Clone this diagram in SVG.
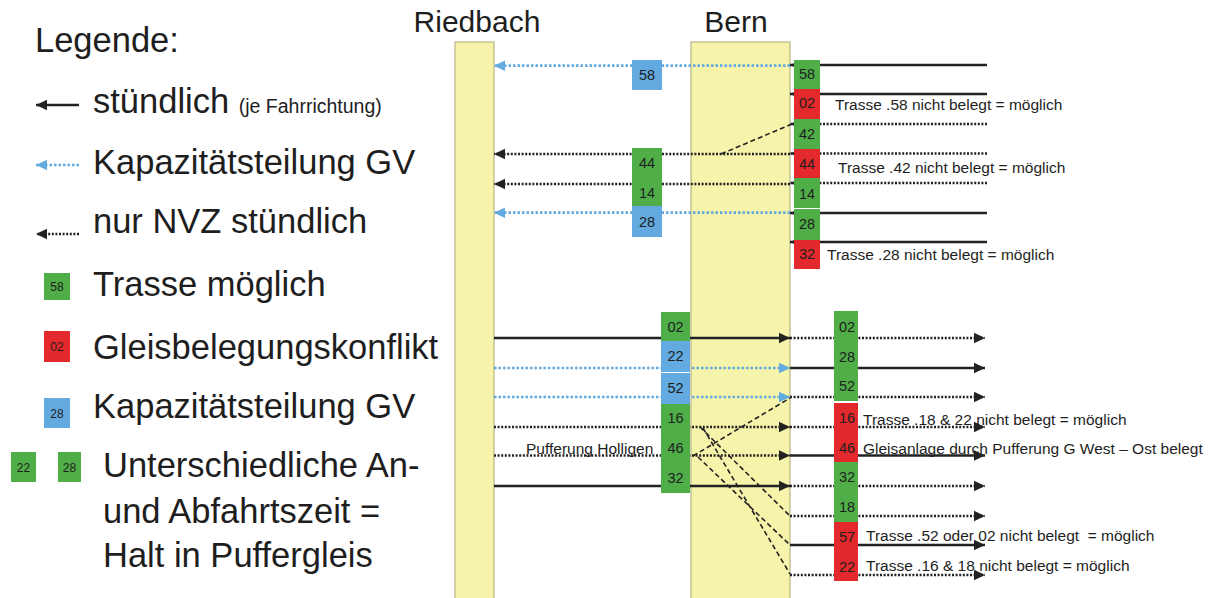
<svg xmlns="http://www.w3.org/2000/svg" width="1214" height="598" viewBox="0 0 1214 598">
<style>
text{font-family:"Liberation Sans",Arial,sans-serif;fill:#1e1e1e}
.big{font-size:34.5px}
.st{font-size:30px}
.bx{font-size:14.5px;text-anchor:middle}
.lbx{font-size:12px;text-anchor:middle}
.note{font-size:15.5px}
.col{fill:#f6f3aa;stroke:#b9b487;stroke-width:1.2}
.g{fill:#4fae48}
.r{fill:#e3292c}
.b{fill:#62aadf}
.sol{stroke:#222;stroke-width:2.5;fill:none}
.dot{stroke:#222;stroke-width:2.7;stroke-dasharray:2 1.6;fill:none}
.bdot{stroke:#62aadf;stroke-width:2.7;stroke-dasharray:2.5 2;fill:none}
.dash{stroke:#222;stroke-width:1.6;stroke-dasharray:5 3;fill:none}
</style>
<defs>
<marker id="ak" markerUnits="userSpaceOnUse" markerWidth="12" markerHeight="12" refX="11" refY="6" orient="auto"><path d="M0,0.8 L11,6 L0,11.2 z" fill="#222"/></marker>
<marker id="ab" markerUnits="userSpaceOnUse" markerWidth="12" markerHeight="12" refX="11" refY="6" orient="auto"><path d="M0,0.8 L11,6 L0,11.2 z" fill="#62aadf"/></marker>
<marker id="as" markerUnits="userSpaceOnUse" markerWidth="6" markerHeight="6" refX="5" refY="3" orient="auto"><path d="M0,0.8 L5,3 L0,5.2 z" fill="#222"/></marker>
</defs>

<g id="legend">
<text class="big" x="35" y="52">Legende:</text>
<line class="sol" x1="79" y1="105" x2="36" y2="105" marker-end="url(#ak)"/>
<text class="big" x="93" y="113">stündlich <tspan font-size="19.5px">(je Fahrrichtung)</tspan></text>
<line class="bdot" x1="79" y1="165" x2="36" y2="165" marker-end="url(#ab)"/>
<text class="big" x="93" y="174">Kapazitätsteilung GV</text>
<line class="dot" x1="79" y1="234" x2="36" y2="234" marker-end="url(#ak)"/>
<text class="big" x="93" y="233">nur NVZ stündlich</text>
<rect class="g" x="44" y="273" width="26" height="27"/><text class="lbx" x="57" y="291">58</text>
<text class="big" x="93" y="296">Trasse möglich</text>
<rect class="r" x="44" y="331" width="26" height="31"/><text class="lbx" x="57" y="351">02</text>
<text class="big" x="93" y="359">Gleisbelegungskonflikt</text>
<rect class="b" x="44" y="398" width="26" height="30"/><text class="lbx" x="57" y="418">28</text>
<text class="big" x="93" y="418">Kapazitätsteilung GV</text>
<rect class="g" x="11" y="452" width="25" height="30"/><text class="lbx" x="23.5" y="472">22</text>
<rect class="g" x="58" y="452" width="23" height="30"/><text class="lbx" x="69.5" y="472">28</text>
<text class="big" x="103" y="477">Unterschiedliche An-</text>
<text class="big" x="103" y="523">und Abfahrtszeit =</text>
<text class="big" x="103" y="567">Halt in Puffergleis</text>
</g>

<g id="riedbach">
<rect class="col" x="455" y="42" width="39" height="560"/>
<text class="st" x="477" y="32" text-anchor="middle">Riedbach</text>
</g>
<g id="bern">
<rect class="col" x="691" y="42" width="99" height="560"/>
<text class="st" x="736" y="32" text-anchor="middle">Bern</text>
</g>

<g id="connectors">
<line class="sol" x1="987" y1="65" x2="790" y2="65" marker-end="url(#as)"/>
<line class="sol" x1="987" y1="94" x2="790" y2="94" marker-end="url(#as)"/>
<line class="dot" x1="987" y1="124" x2="790" y2="124" marker-end="url(#as)"/>
<line class="dot" x1="987" y1="153.5" x2="790" y2="153.5" marker-end="url(#as)"/>
<line class="dot" x1="987" y1="183" x2="790" y2="183" marker-end="url(#as)"/>
<line class="sol" x1="987" y1="213" x2="790" y2="213" marker-end="url(#as)"/>
<line class="sol" x1="987" y1="242" x2="790" y2="242" marker-end="url(#as)"/>
<line class="bdot" x1="790" y1="65.7" x2="494" y2="65.7" marker-end="url(#ab)"/>
<line class="dot" x1="790" y1="154" x2="494" y2="154" marker-end="url(#ak)"/>
<line class="dash" x1="721" y1="154" x2="792" y2="124"/>
<line class="dot" x1="790" y1="184" x2="494" y2="184" marker-end="url(#ak)"/>
<line class="bdot" x1="790" y1="212.7" x2="494" y2="212.7" marker-end="url(#ab)"/>

<line class="sol" x1="494" y1="338" x2="790" y2="338" marker-end="url(#ak)"/>
<line class="bdot" x1="494" y1="368" x2="790" y2="368" marker-end="url(#ab)"/>
<line class="bdot" x1="494" y1="397" x2="790" y2="397" marker-end="url(#ab)"/>
<line class="dot" x1="494" y1="427" x2="790" y2="427" marker-end="url(#ak)"/>
<line class="dot" x1="494" y1="455.5" x2="790" y2="455.5" marker-end="url(#ak)"/>
<line class="sol" x1="494" y1="486" x2="790" y2="486" marker-end="url(#ak)"/>
<line class="dash" x1="693" y1="456" x2="790" y2="398"/>
<line class="dash" x1="700" y1="427" x2="790" y2="516"/>
<line class="dash" x1="703" y1="428" x2="790" y2="574"/>
<line class="dash" x1="698" y1="457" x2="790" y2="545"/>
<line class="dot" x1="790" y1="338" x2="985" y2="338" marker-end="url(#ak)"/>
<line class="sol" x1="790" y1="368" x2="985" y2="368" marker-end="url(#ak)"/>
<line class="dot" x1="790" y1="397" x2="985" y2="397" marker-end="url(#ak)"/>
<line class="dot" x1="790" y1="427" x2="985" y2="427" marker-end="url(#ak)"/>
<line class="sol" x1="790" y1="455.5" x2="985" y2="455.5" marker-end="url(#ak)"/>
<line class="dot" x1="790" y1="486" x2="985" y2="486" marker-end="url(#ak)"/>
<line class="dot" x1="790" y1="516" x2="985" y2="516" marker-end="url(#ak)"/>
<line class="sol" x1="790" y1="545" x2="985" y2="545" marker-end="url(#ak)"/>
<line class="dot" x1="790" y1="575" x2="985" y2="575" marker-end="url(#ak)"/>
</g>

<g id="upper-left-boxes">
<rect class="b" x="632" y="60" width="30" height="30"/><text class="bx" x="647" y="80">58</text>
<rect class="g" x="632" y="148" width="30" height="58"/><text class="bx" x="647" y="168">44</text><text class="bx" x="647" y="198">14</text>
<rect class="b" x="632" y="206" width="30" height="31"/><text class="bx" x="647" y="227">28</text>
</g>

<g id="upper-right-boxes">
<rect class="g" x="794" y="60" width="26" height="29"/><text class="bx" x="807" y="79">58</text>
<rect class="r" x="794" y="89" width="26" height="30"/><text class="bx" x="807" y="108">02</text>
<rect class="g" x="794" y="119" width="26" height="30"/><text class="bx" x="807" y="139">42</text>
<rect class="r" x="794" y="149" width="26" height="29"/><text class="bx" x="807" y="169">44</text>
<rect class="g" x="794" y="178" width="26" height="30"/><text class="bx" x="807" y="199">14</text>
<rect class="g" x="794" y="209" width="26" height="31"/><text class="bx" x="807" y="229">28</text>
<rect class="r" x="794" y="240" width="26" height="29"/><text class="bx" x="807" y="259">32</text>
</g>

<g id="upper-notes">
<text class="note" x="835" y="110">Trasse .58 nicht belegt = möglich</text>
<text class="note" x="838" y="173">Trasse .42 nicht belegt = möglich</text>
<text class="note" x="827" y="260">Trasse .28 nicht belegt = möglich</text>
</g>

<g id="lower-left-boxes">
<rect class="g" x="661" y="312" width="29" height="29"/><text class="bx" x="675.5" y="332">02</text>
<rect class="b" x="661" y="341" width="29" height="31"/><text class="bx" x="675.5" y="361">22</text>
<rect class="b" x="661" y="373" width="29" height="31"/><text class="bx" x="675.5" y="393">52</text>
<rect class="g" x="661" y="404" width="29" height="89"/>
<text class="bx" x="675.5" y="423">16</text><text class="bx" x="675.5" y="453">46</text><text class="bx" x="675.5" y="483">32</text>
</g>
<text id="pufferung" class="note" x="526" y="454">Pufferung Holligen</text>

<g id="lower-right-boxes">
<rect class="g" x="834" y="311" width="24" height="90"/>
<text class="bx" x="847" y="332">02</text><text class="bx" x="847" y="362">28</text><text class="bx" x="847" y="391">52</text>
<rect class="r" x="834" y="403" width="24" height="59"/>
<text class="bx" x="847" y="423">16</text><text class="bx" x="847" y="453">46</text>
<rect class="g" x="834" y="462" width="24" height="60"/>
<text class="bx" x="847" y="482">32</text><text class="bx" x="847" y="512">18</text>
<rect class="r" x="834" y="522" width="24" height="59"/>
<text class="bx" x="847" y="542">57</text><text class="bx" x="847" y="572">22</text>
</g>

<g id="lower-notes">
<text class="note" x="863" y="425">Trasse .18 &amp; 22 nicht belegt = möglich</text>
<text class="note" x="863" y="454">Gleisanlage durch Pufferung G West – Ost belegt</text>
<text class="note" x="866" y="541" xml:space="preserve">Trasse .52 oder 02 nicht belegt  = möglich</text>
<text class="note" x="866" y="571">Trasse .16 &amp; 18 nicht belegt = möglich</text>
</g>
</svg>
